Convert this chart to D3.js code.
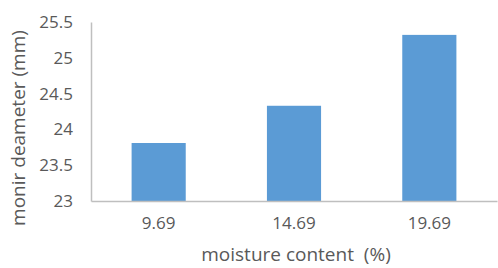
<!DOCTYPE html>
<html><head><meta charset="utf-8">
<script src="https://cdn.jsdelivr.net/npm/d3@7"></script>
<style>body{margin:0;background:#fff}svg{display:block}text{font-family:"Open Sans",sans-serif;fill:#595959}</style>
</head><body><svg id="c" width="498" height="268"></svg>
<script>
const categories = ["9.69", "14.69", "19.69"];
const values = [23.81, 24.33, 25.32];
const yTicks = [23, 23.5, 24, 24.5, 25, 25.5];
const xTitle = "moisture content  (%)";
const yTitle = "monir deameter (mm)";

const svg = d3.select("#c");
const L = 91, R = 497, T = 22, B = 201;
const x = d3.scaleBand().domain(categories).range([L, R]).paddingInner(0.6).paddingOuter(0.3);
const y = d3.scaleLinear().domain([23, 25.5]).range([B, T]);

svg.selectAll("rect.bar").data(values).join("rect").attr("class","bar")
  .attr("x", (d,i) => x(categories[i])).attr("width", x.bandwidth())
  .attr("y", d => y(d)).attr("height", d => B - y(d)).attr("fill", "#5b9bd5");

const yAxis = d3.axisLeft(y).tickValues(yTicks).tickSize(0).tickPadding(18).tickFormat(d3.format(""));
const gy = svg.append("g").attr("transform", `translate(${L},0)`).call(yAxis);
gy.select(".domain").attr("stroke", "#bfbfbf").attr("stroke-width", 1.5);
gy.selectAll("text").attr("font-size", 17).attr("fill", "#595959").attr("font-family", "Open Sans");

const xAxis = d3.axisBottom(x).tickSize(0).tickPadding(16);
const gx = svg.append("g").attr("transform", `translate(0,${B})`).call(xAxis);
gx.select(".domain").attr("stroke", "#bfbfbf").attr("stroke-width", 1.5);
gx.selectAll("text").attr("font-size", 17).attr("fill", "#595959").attr("font-family", "Open Sans");

svg.append("text").attr("x", 296).attr("y", 261).attr("text-anchor", "middle")
  .attr("font-size", 19).text(xTitle).style("white-space","pre").attr("xml:space","preserve");
svg.append("text").attr("transform", "translate(25,128) rotate(-90)").attr("text-anchor", "middle")
  .attr("font-size", 19).text(yTitle);
</script></body></html>
